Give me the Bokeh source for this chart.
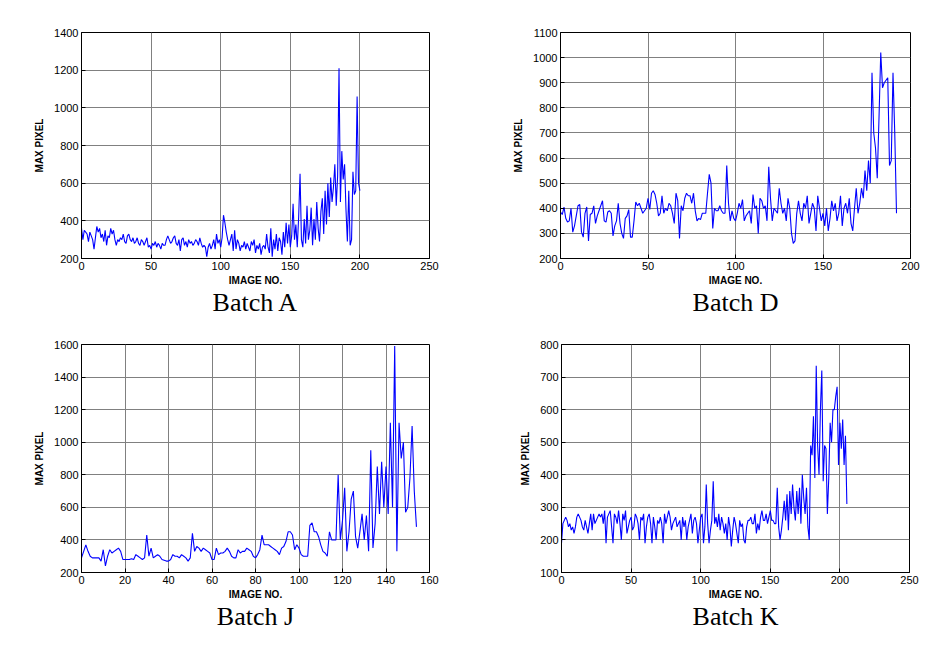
from bokeh.plotting import figure
from bokeh.layouts import column, row
from bokeh.models import Range1d, Title, FixedTicker, ColumnDataSource
from bokeh.embed import file_html
from bokeh.resources import INLINE

# ---------------- data ----------------
batch_a = [
    360, 300, 350, 340, 330, 290, 340, 320, 300, 250,
    310, 370, 340, 360, 310, 330, 290, 350, 270, 320,
    310, 360, 330, 350, 300, 270, 300, 290, 310, 300,
    330, 290, 280, 320, 330, 300, 290, 310, 280, 290,
    310, 280, 270, 300, 290, 270, 290, 310, 260, 270,
    250, 280, 270, 290, 260, 280, 270, 250, 280, 270,
    270, 300, 320, 300, 280, 290, 310, 320, 280, 270,
    300, 240, 300, 310, 270, 290, 260, 300, 280, 290,
    270, 280, 300, 290, 270, 310, 280, 260, 270, 260,
    210, 260, 280, 250, 270, 300, 250, 330, 280, 300,
    260, 310, 430, 390, 340, 300, 270, 300, 330, 240,
    350, 250, 300, 280, 240, 270, 260, 290, 250, 280,
    260, 240, 290, 270, 300, 230, 270, 250, 280, 220,
    260, 270, 250, 330, 260, 230, 360, 210, 300, 250,
    330, 240, 310, 290, 220, 340, 260, 390, 280, 380,
    260, 320, 490, 300, 380, 260, 420, 650, 300, 260,
    410, 280, 480, 300, 350, 470, 270, 410, 300, 500,
    360, 290, 450, 520, 330, 560, 380, 600, 420, 630,
    500, 580, 700, 480, 640, 1210, 500, 770, 620, 700,
    460, 290, 560, 270, 300, 660, 540, 560, 1060, 600,
    560,
]

batch_d = [
    385, 375, 405, 360, 345, 350, 400, 305, 330, 370,
    410, 415, 305, 285, 380, 405, 270, 375, 380, 410,
    340, 370, 390, 410, 430, 350, 345, 385, 390, 380,
    290, 330, 350, 420, 340, 300, 280, 360, 370, 395,
    285, 285, 350, 425, 410, 420, 400, 380, 390, 400,
    440, 395, 460, 470, 455, 420, 370, 380, 450, 380,
    400, 390, 420, 410, 380, 340, 460, 430, 280, 410,
    390, 440, 460, 450, 450, 420, 460, 390, 350, 360,
    355, 380, 380, 380, 460, 535, 500, 320, 400, 390,
    390, 410, 390, 380, 380, 570, 420, 350, 390, 360,
    350, 380, 420, 400, 435, 350, 370, 380, 390, 340,
    455, 400, 410, 300, 440, 430, 400, 410, 350, 565,
    440, 350, 400, 390, 380, 480, 420, 380, 400, 350,
    440, 400, 300, 260, 270, 380, 430, 380, 350, 420,
    400, 450, 340, 380, 420, 400, 310, 450, 400, 350,
    380, 330, 400, 310, 360, 430, 390, 420, 350, 380,
    450, 330, 400, 420, 380, 440, 340, 310, 400, 480,
    380, 420, 480, 440, 550, 470, 590, 500, 940, 700,
    640, 520, 760, 1020, 880, 900, 910, 920, 570, 590,
    940, 700, 380,
]

batch_j = [
    290, 330, 370, 330, 300, 290, 290, 290, 290, 270,
    340, 240, 300, 340, 320, 330, 340, 350, 330, 280,
    280, 280, 280, 285, 280, 310, 300, 290, 280, 290,
    430, 300, 350, 290, 300, 310, 300, 280, 275, 270,
    270, 280, 310, 300, 300, 290, 310, 300, 290, 270,
    290, 440, 330, 360, 350, 330, 350, 340, 330, 320,
    280, 280, 350, 310, 320, 320, 330, 350, 330, 300,
    290, 290, 340, 320, 330, 330, 350, 340, 330, 300,
    290, 310, 340, 430, 370, 370, 370, 360, 350, 340,
    330, 310, 350, 360, 390, 450, 450, 430, 340, 370,
    350, 310, 300, 300, 300, 490, 505, 450, 450, 420,
    370, 330, 320, 300, 450, 400, 400, 400, 800, 400,
    520, 720, 330, 450, 650, 700, 420, 350, 450, 560,
    400, 550, 330, 950, 350, 500, 850, 560, 880, 600,
    850, 560, 1120, 600, 1590, 330, 1120, 900, 1000, 570,
    600, 780, 1100, 700, 480,
]

batch_k = [
    190, 250, 260, 270, 260, 240, 250, 230, 240, 220,
    240, 270, 280, 270, 260, 240, 230, 260, 240, 220,
    250, 280, 230, 280, 250, 260, 270, 280, 270, 280,
    250, 290, 190, 270, 280, 290, 240, 190, 280, 270,
    250, 290, 250, 200, 280, 260, 290, 220, 240, 260,
    270, 230, 240, 280, 270, 250, 200, 270, 260, 280,
    190, 240, 270, 280, 250, 190, 270, 240, 200, 260,
    250, 270, 250, 190, 280, 250, 270, 290, 270, 230,
    250, 260, 270, 240, 250, 260, 200, 270, 240, 260,
    200, 240, 260, 280, 220, 260, 270, 250, 190, 230,
    270, 280, 190, 240, 370, 250, 190, 230, 260, 380,
    250, 270, 240, 280, 230, 270, 250, 220, 250, 200,
    270, 240, 180, 230, 270, 250, 220, 190, 260, 240,
    250, 200, 190, 240, 260, 260, 270, 250, 250, 280,
    220, 250, 230, 270, 290, 260, 260, 280, 250, 270,
    290, 260, 260, 250, 250, 360, 240, 200, 230, 270,
    320, 260, 340, 230, 350, 280, 370, 300, 260, 350,
    280, 360, 250, 400, 330, 280, 360, 240, 200, 490,
    460, 580, 390, 735, 490, 400, 600, 720, 380, 490,
    480, 280, 390, 560, 500, 600, 600, 640, 670, 430,
    560, 480, 570, 430, 520, 310,
]

panels = [
    dict(name="Batch A", y=batch_a, xr=(0, 250), yr=(200, 1400),
         xt=[0, 50, 100, 150, 200, 250], yt=list(range(200, 1401, 200)),
         left=81, right=43, top=32, bottom=68, fw=348, fh=226),
    dict(name="Batch D", y=batch_d, xr=(0, 200), yr=(200, 1100),
         xt=[0, 50, 100, 150, 200], yt=list(range(200, 1101, 100)),
         left=88, right=34, top=32, bottom=68, fw=350, fh=226),
    dict(name="Batch J", y=batch_j, xr=(0, 160), yr=(200, 1600),
         xt=list(range(0, 161, 20)), yt=list(range(200, 1601, 200)),
         left=81, right=43, top=18, bottom=81, fw=348, fh=228),
    dict(name="Batch K", y=batch_k, xr=(0, 250), yr=(100, 800),
         xt=[0, 50, 100, 150, 200, 250], yt=list(range(100, 801, 100)),
         left=89, right=35, top=18, bottom=81, fw=348, fh=228),
]


def make(pn):
    p = figure(frame_width=pn["fw"], frame_height=pn["fh"],
               min_border_left=pn["left"], min_border_right=pn["right"],
               min_border_top=pn["top"], min_border_bottom=pn["bottom"],
               x_range=Range1d(*pn["xr"]), y_range=Range1d(*pn["yr"]),
               output_backend="svg", toolbar_location=None,
               background_fill_color="white", border_fill_color="white")
    src = ColumnDataSource(dict(x=list(range(len(pn["y"]))), y=pn["y"]))
    p.line("x", "y", source=src, line_color="#0000ff", line_width=1.1)

    p.xaxis.ticker = FixedTicker(ticks=pn["xt"])
    p.yaxis.ticker = FixedTicker(ticks=pn["yt"])
    for ax in (p.xaxis[0], p.yaxis[0]):
        ax.major_label_text_font = "Liberation Sans"
        ax.major_label_text_font_size = "11px"
        ax.major_label_text_color = "black"
        ax.axis_line_color = "black"
        ax.axis_line_width = 1
        ax.major_tick_in = 4
        ax.major_tick_out = 0
        ax.minor_tick_in = 0
        ax.minor_tick_out = 0
        ax.major_tick_line_color = "black"
        ax.axis_label_text_font = "Liberation Sans"
        ax.axis_label_text_font_size = "10px"
        ax.axis_label_text_font_style = "bold"
        ax.axis_label_text_color = "black"
    p.xaxis.axis_label = "IMAGE NO."
    p.yaxis.axis_label = "MAX PIXEL"
    p.xaxis.axis_label_standoff = 2
    p.yaxis.axis_label_standoff = 6
    p.xaxis.major_label_standoff = 3
    p.yaxis.major_label_standoff = 3

    p.grid.grid_line_color = "#808080"
    p.grid.grid_line_width = 1
    p.grid.grid_line_alpha = 1
    p.outline_line_color = "black"
    p.outline_line_width = 1
    p.outline_line_alpha = 1

    t = Title(text=pn["name"], align="center", text_font="Liberation Serif",
              text_font_size="26px", text_font_style="normal",
              text_color="black", standoff=-6)
    p.add_layout(t, "below")
    return p


figs = [make(pn) for pn in panels]
layout = column(row(figs[0], figs[1]), row(figs[2], figs[3]))

open("out.html", "w").write(file_html(layout, INLINE))
